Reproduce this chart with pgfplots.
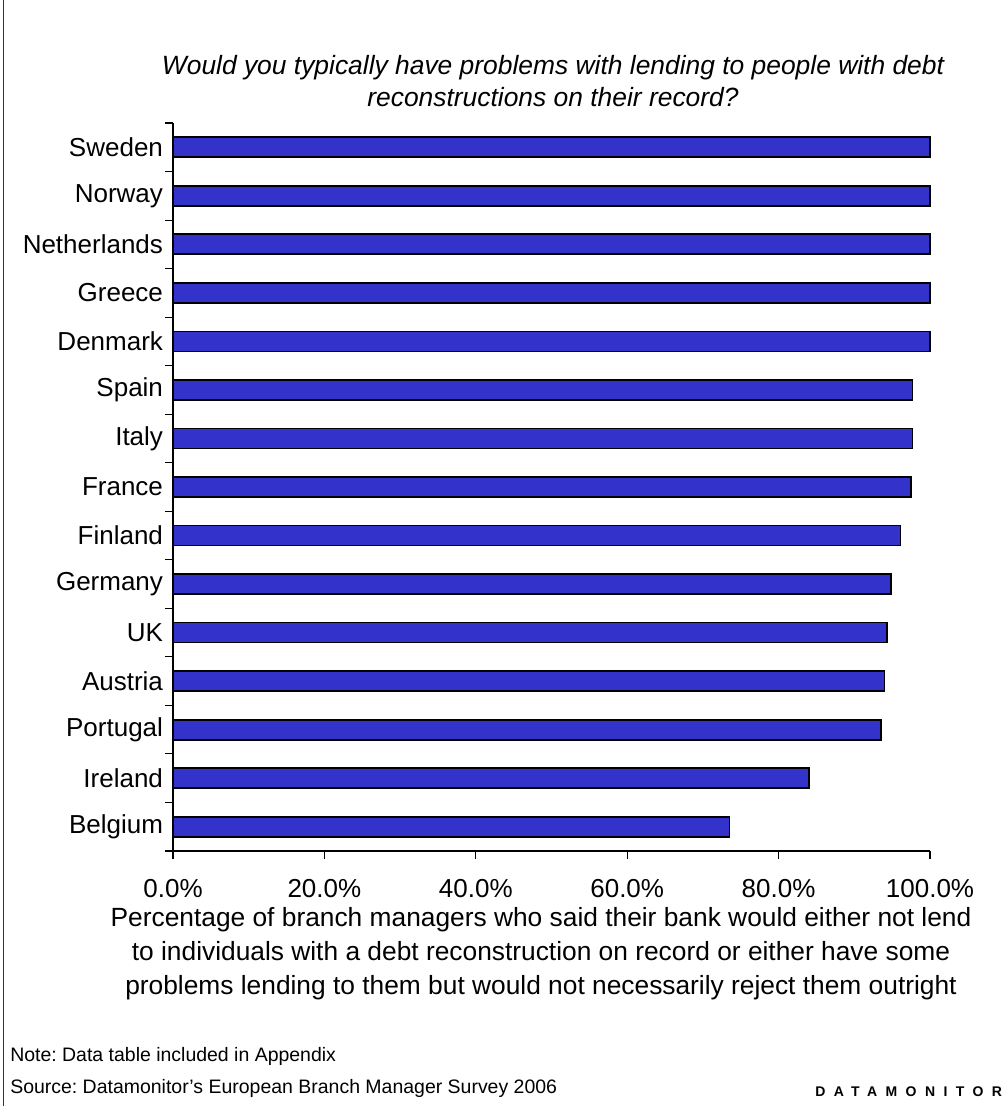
\documentclass[border=0pt]{standalone}
\usepackage{pgfplots}
\pgfplotsset{compat=1.18}
\usepackage{fontspec}
\setmainfont{Liberation Sans}
\definecolor{barblue}{RGB}{51,51,204}
\frenchspacing
\begin{document}
\begin{tikzpicture}
\begin{scope}[x=0.75pt,y=-0.75pt]
\draw[line width=1pt, black!80] (3.5,0) -- (3.5,1106);
\end{scope}
\begin{axis}[
  at={(129.75pt,-638.25pt)}, anchor=south west,
  scale only axis, width=567.75pt, height=546pt,
  xmin=0, xmax=100, ymin=-0.5, ymax=14.5,
  clip=false,
  axis x line*=bottom, axis y line*=left,
  axis line style={line width=0.8pt, black},
  xtick={0,20,40,60,80,100},
  xticklabels={0.0\%,20.0\%,40.0\%,60.0\%,80.0\%,100.0\%},
  ytick={-0.5,0.5,...,14.5},
  y tick label as interval,
  yticklabels={Belgium,Ireland,Portugal,Austria,UK,Germany,Finland,France,Italy,Spain,Denmark,Greece,Netherlands,Norway,Sweden},
  tick align=outside,
  major tick length=6pt,
  tick style={line width=0.8pt, black},
  ticklabel style={font=\fontsize{19.5}{23}\selectfont},
  xticklabel style={yshift=-12pt},
  yticklabel style={xshift=2pt},
]
\addplot[xbar, bar width=15pt, fill=barblue, draw=black, line width=1.3pt] coordinates {
(73.5,0) (84.0,1) (93.5,2) (94.0,3) (94.3,4) (94.8,5) (96.1,6) (97.5,7) (97.7,8) (97.7,9) (100,10) (100,11) (100,12) (100,13) (100,14)
};
\end{axis}
\begin{scope}[x=0.75pt,y=-0.75pt]
\node[align=center, font=\fontsize{19.8}{24}\selectfont\itshape] at (553,81) {Would you typically have problems with lending to people with debt\\reconstructions on their record?};
\node[align=center, font=\fontsize{19.75}{25.5}\selectfont] at (541,954) {Percentage of branch managers who said their bank would either not lend\\to individuals with a debt reconstruction on record or either have some\\problems lending to them but would not necessarily reject them outright};
\node[anchor=west, inner sep=0pt, font=\fontsize{14.6}{18}\selectfont] at (10,1056) {Note: Data table included in Appendix};
\node[anchor=west, inner sep=0pt, font=\fontsize{14.6}{18}\selectfont] at (10,1088) {Source: Datamonitor’s European Branch Manager Survey 2006};
\node[anchor=west, inner sep=0pt, font=\fontsize{10.5}{12}\selectfont\bfseries\addfontfeature{LetterSpace=60}] at (815,1092) {DATAMONITOR};
\pgfresetboundingbox
\path[use as bounding box] (0,0) rectangle (1003,1106);
\end{scope}
\end{tikzpicture}
\end{document}
